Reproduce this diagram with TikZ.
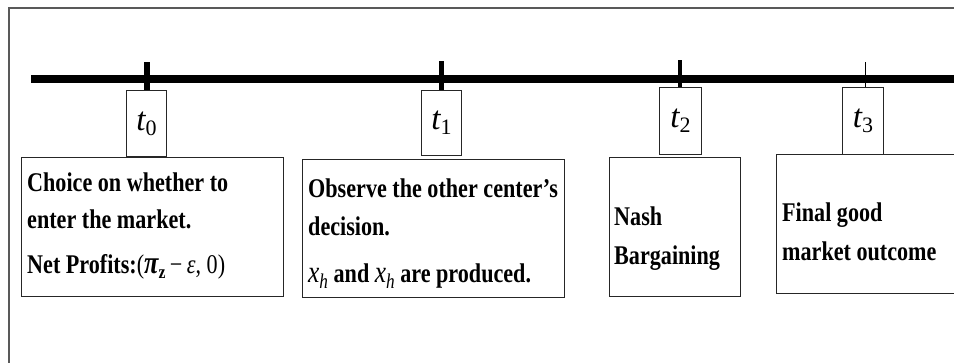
\documentclass[tikz,border=0pt]{standalone}
\usepackage{graphicx}
\usepackage{fontspec}
\setmainfont{Liberation Serif}[FakeStretch=0.82]
\newfontfamily\tfont{Liberation Serif}
\newcommand{\tlab}[1]{{\tfont\fontsize{33}{33}\selectfont\itshape t}\raisebox{-5pt}{\tfont\fontsize{22}{22}\selectfont #1}}
\newcommand{\xh}{{\mdseries\itshape\fontsize{31}{31}\selectfont x}\raisebox{-6pt}{\mdseries\itshape\fontsize{21}{21}\selectfont h}}
\begin{document}
\begin{tikzpicture}[x=1pt,y=-1pt,
  framestyle/.style={draw=black!65, line width=1.3pt},
  cbox/.style={draw=black!85, line width=1.2pt, anchor=north west, inner sep=0pt},
  lbox/.style={draw=black!85, line width=1.1pt, inner sep=0pt, anchor=north west},
  txt/.style={anchor=base west, inner sep=0pt, font=\fontsize{27}{30}\selectfont\bfseries},
  tickln/.style={line width=#1, draw=black}]
\useasboundingbox (0,0) rectangle (954,362);
\clip (0,0) rectangle (954,362);
\fill[white] (0,0) rectangle (954,362);

% frame
\coordinate (fa) at (9,380);
\coordinate (fb) at (9,8);
\coordinate (fc) at (970,8);
\draw[framestyle] (fa) -- (fb) -- (fc);

% timeline
\coordinate (tl0) at (31,79);
\coordinate (tl1) at (970,79);
\draw[line width=8pt] (tl0) -- (tl1);

% label boxes
\node[lbox, minimum width=40, minimum height=66] (l0) at (126,90) {\tlab{0}};
\node[lbox, minimum width=40, minimum height=65] (l1) at (421,90) {\tlab{1}};
\node[lbox, minimum width=42, minimum height=67] (l2) at (659,87) {\tlab{2}};
\node[lbox, minimum width=41, minimum height=67] (l3) at (842,87) {\tlab{3}};

% ticks
\coordinate (k0) at (147,62);
\coordinate (k1) at (441,61);
\coordinate (k2) at (680,60);
\coordinate (k3) at (865,62);
\draw[tickln=6pt] (k0) -- (k0 |- l0.north);
\draw[tickln=5pt] (k1) -- (k1 |- l1.north);
\draw[tickln=4pt] (k2) -- (k2 |- l2.north);
\draw[tickln=1pt] (k3) -- (k3 |- l3.north);

% content boxes
\node[cbox, minimum width=262, minimum height=139] (b0) at (21,157) {};
\node[cbox, minimum width=262, minimum height=138] (b1) at (302,159) {};
\node[cbox, minimum width=131, minimum height=139] (b2) at (609,157) {};
\node[cbox, minimum width=200, minimum height=139] (b3) at (776,154) {};

% texts
\node[txt] (a1) at (27,191) {Choice on whether to};
\node[txt] (a2) at (27,228) {enter the market.};
\node[txt] (a3) at (27,273) {Net Profits:{\mdseries(}{\fontsize{32}{32}\selectfont\itshape π}\raisebox{-5pt}{\fontsize{19}{19}\selectfont z}{\mdseries\,−\,{\itshape ε}, 0)}};

\node[txt] (c1) at (308,197) {Observe the other center’s};
\node[txt] (c2) at (308,235) {decision.};
\node[txt] (c3) at (308,282) {\xh{} and \xh{} are produced.};

\node[txt] (d1) at (614,225) {Nash};
\node[txt] (d2) at (614,264) {Bargaining};

\node[txt] (e1) at (782,221) {Final good};
\node[txt] (e2) at (782,260) {market outcome};
\end{tikzpicture}
\end{document}
